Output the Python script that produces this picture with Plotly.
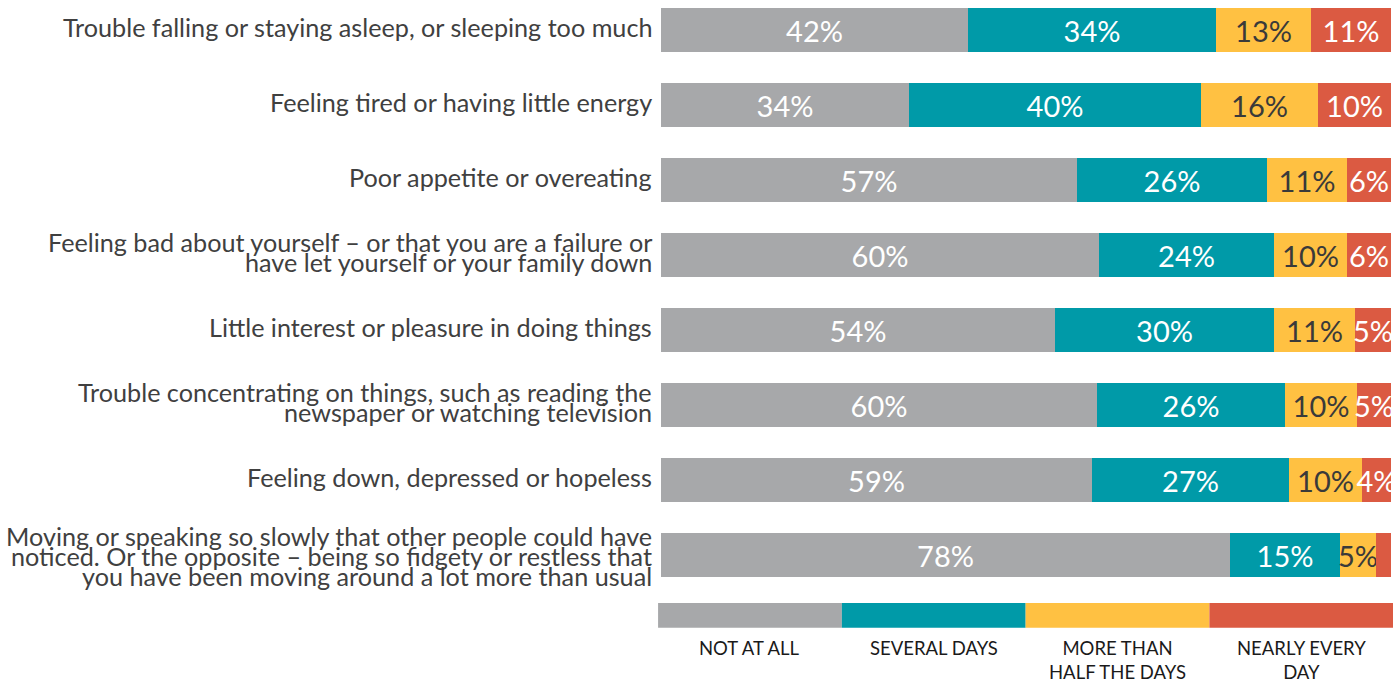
import plotly.graph_objects as go

# items, top to bottom as drawn
items = [
    "Trouble falling or staying asleep, or sleeping too much",
    "Feeling tired or having little energy",
    "Poor appetite or overeating",
    "Feeling bad about yourself – or that you are a failure or\nhave let yourself or your family down",
    "Little interest or pleasure in doing things",
    "Trouble concentrating on things, such as reading the\nnewspaper or watching television",
    "Feeling down, depressed or hopeless",
    "Moving or speaking so slowly that other people could have\nnoticed. Or the opposite – being so fidgety or restless that\nyou have been moving around a lot more than usual",
]

series_names = ["NOT AT ALL", "SEVERAL DAYS", "MORE THAN<br>HALF THE DAYS", "NEARLY EVERY<br>DAY"]
not_at_all = [42, 34, 57, 60, 54, 59.7, 59, 78]
several_days = [34, 40, 26, 24, 30, 25.8, 27, 15]
more_than_half = [13, 16, 11, 10, 11, 9.9, 10, 5]
nearly_every_day = [11, 10, 6, 6, 5, 4.6, 4, 2]
values = [not_at_all, several_days, more_than_half, nearly_every_day]

colors = ["#a7a8aa", "#009aa8", "#ffc142", "#db5a42"]
text_colors = ["white", "white", "#3a3a3a", "white"]
FONT = "Lato"

ids = list(range(len(items)))

fig = go.Figure()
for s, (name, vals) in enumerate(zip(series_names, values)):
    labels = [f"{round(v)}%" if v >= 3 else "" for v in vals]
    fig.add_trace(go.Bar(
        y=ids, x=vals, orientation="h", name=name,
        marker=dict(color=colors[s], line=dict(width=0)),
        width=0.59,
        text=labels, textposition="inside", insidetextanchor="middle",
        textangle=0, constraintext="none",
        textfont=dict(family=FONT, size=29, color=text_colors[s]),
        hoverinfo="x+y", cliponaxis=False,
    ))

annotations = []
# category labels, one annotation per line for tight line spacing
for i, lab in enumerate(items):
    lines = lab.split("\n")
    n = len(lines)
    up = 3 if n < 3 else -1
    for k, line in enumerate(lines):
        annotations.append(dict(
            x=-0.0096, xref="paper", y=i, yref="y",
            text=line, showarrow=False, xanchor="right", yanchor="middle",
            yshift=-((k - (n - 1) / 2) * 20) + up,
            font=dict(family=FONT, size=25.2, color="#404040"),
        ))

# legend: colour strip with labels underneath
shapes = []
x_left, x_right = -0.004, 1.003
step = (x_right - x_left) / 4
for s, name in enumerate(series_names):
    x0 = x_left + s * step
    shapes.append(dict(type="rect", xref="paper", yref="y",
                       x0=x0, x1=x0 + step, y0=7.64, y1=7.97,
                       fillcolor=colors[s], line=dict(width=0)))
    annotations.append(dict(
        x=x0 + step / 2, xref="paper", y=8.06, yref="y",
        text=name, showarrow=False, xanchor="center", yanchor="top",
        font=dict(family=FONT, size=18.5, color="#1a1a1a"),
    ))

fig.update_layout(
    barmode="stack",
    width=1393, height=681,
    margin=dict(l=661, r=2, t=0, b=0),
    plot_bgcolor="white", paper_bgcolor="white",
    showlegend=False,
    bargap=0,
    xaxis=dict(range=[0, 100], visible=False, fixedrange=True),
    yaxis=dict(range=[8.68, -0.4], visible=False, fixedrange=True),
    annotations=annotations,
    shapes=shapes,
)

fig.write_html("out.html", config={"displayModeBar": False},
               post_script="document.body.style.margin='0';")
